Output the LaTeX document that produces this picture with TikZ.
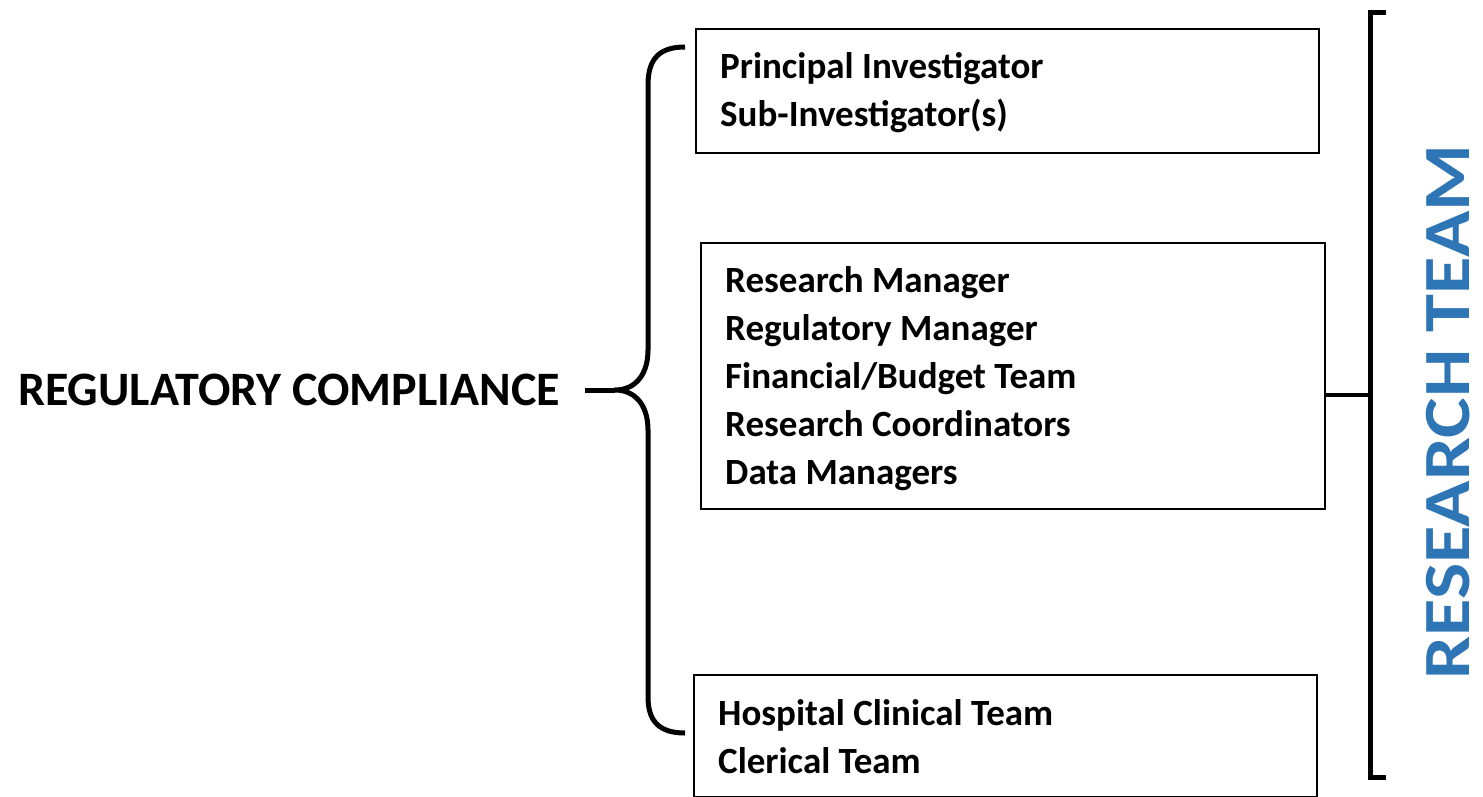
\documentclass[tikz,border=0pt]{standalone}
\usepackage{fontspec}
\setmainfont{Carlito}
\definecolor{teamblue}{RGB}{46,117,182}
\begin{document}
\begin{tikzpicture}[x=1pt,y=-1pt,
  box/.style={draw=black,line width=1.8pt,rectangle,anchor=north west,inner sep=0pt},
  item/.style={anchor=base west,inner sep=0pt,font=\fontsize{37}{48}\selectfont\bfseries},
  heavy/.style={line width=5pt,line cap=butt,line join=round}]
\useasboundingbox (0,0) rectangle (1483,796);

% team boxes
\node[box,minimum width=623pt,minimum height=124pt] (b1) at (695,28) {};
\node[box,minimum width=624pt,minimum height=266pt] (b2) at (700,242) {};
\node[box,minimum width=623pt,minimum height=122pt] (b3) at (693,674) {};

% box contents
\node[item] (t11) at (720,78) {Principal Investigator};
\node[item] (t12) at (720,126) {Sub-Investigator(s)};
\node[item] (t21) at (725,292) {Research Manager};
\node[item] (t22) at (725,340) {Regulatory Manager};
\node[item] (t23) at (725,388) {Financial/Budget Team};
\node[item] (t24) at (725,436) {Research Coordinators};
\node[item] (t25) at (725,484) {Data Managers};
\node[item] (t31) at (718,725) {Hospital Clinical Team};
\node[item] (t32) at (718,773) {Clerical Team};

% left label and curly brace
\node[anchor=west,inner sep=0pt,font=\fontsize{48}{56}\selectfont\bfseries] (rc) at (18,390) {REGULATORY COMPLIANCE};
\coordinate (tip) at (615,390);
\draw[heavy] (685,47) .. controls (660,47) and (648,58) .. (648,85) -- (648,350)
  .. controls (648,375) and (635,390) .. (tip)
  .. controls (635,390) and (648,405) .. (648,430) -- (648,697)
  .. controls (648,722) and (660,733) .. (685,733);
\draw[heavy] (rc.east) ++(25,0) coordinate (stub) (stub) -- (tip);

% right square bracket
\coordinate (rb) at (1370,395);
\draw[heavy,line join=miter] (1386,12) -- (1370,12) -- (1370,777) -- (1386,777);
\draw[line width=4pt] (b2.east |- rb) -- (rb);

% vertical title, baseline on the right
\node[rotate=90,anchor=base,inner sep=0pt,text depth=0pt,text=teamblue,font=\fontsize{66}{72}\selectfont\bfseries] (rt) at (1469,412) {\scalebox{1.16}[1]{RESEARCH TEAM}};
\end{tikzpicture}
\end{document}
